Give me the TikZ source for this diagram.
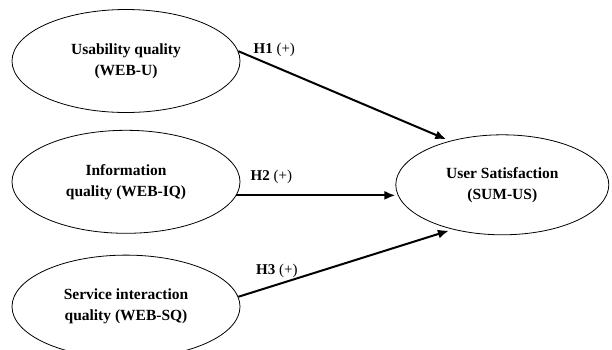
\documentclass[tikz,border=0pt]{standalone}
\usepackage{fontspec}
\setmainfont{Liberation Serif}
\usetikzlibrary{arrows.meta,positioning,shapes.geometric}
\tikzset{
  construct/.style={draw, ellipse, line width=0.8pt, align=center, inner sep=0pt,
    font=\fontsize{15.5}{21}\selectfont\bfseries, minimum width=228pt, minimum height=103pt},
  hyp/.style={-{Latex[length=11pt,width=9pt]}, line width=2pt, shorten >=4pt},
  lbl/.style={font=\fontsize{15}{17}\selectfont, inner sep=1pt},
}
\begin{document}
\begin{tikzpicture}
\useasboundingbox (0,0) rectangle (612pt,-349pt);
\node[construct] (u) at (126pt,-61pt) {Usability quality\\(WEB-U)};
\node[construct, below=17pt of u] (i) {Information\\quality (WEB-IQ)};
\node[construct, below=21pt of i] (q) {Service interaction\\quality (WEB-SQ)};
\node[construct, minimum width=213pt, minimum height=100pt, right=155pt of i, yshift=-3pt] (s) {User Satisfaction\\(SUM-US)};
\draw[hyp] (u.5) -- node[lbl, pos=0.17, above=8pt] {\textbf{H1} (+)} (s.140);
\draw[hyp, shorten >=0pt] (i.-7) -- node[lbl, pos=0.22, above=10pt] {\textbf{H2} (+)} (i.-7 -| s.west);
\draw[hyp] (q.5) -- node[lbl, pos=0.18, above=5pt] {\textbf{H3} (+)} (s.222);
\end{tikzpicture}
\end{document}
